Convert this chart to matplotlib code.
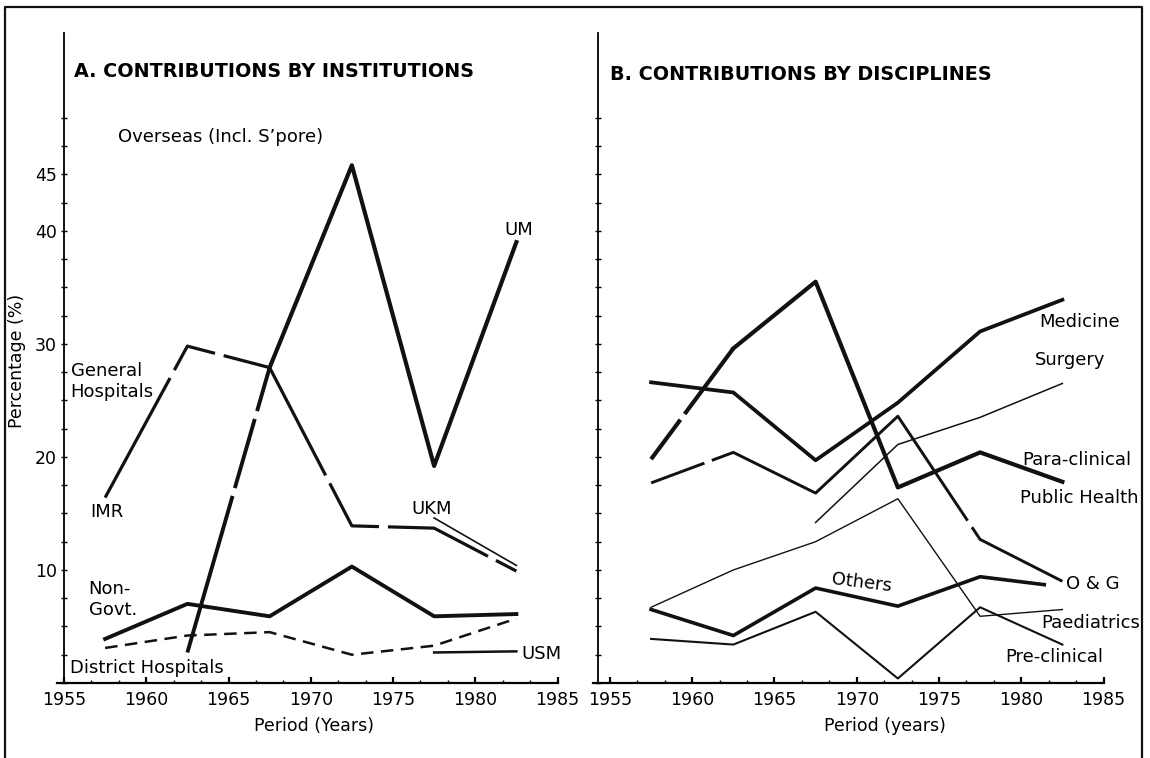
import numpy as np
import matplotlib
matplotlib.use("Agg")
import matplotlib.pyplot as plt
from matplotlib.lines import Line2D
from matplotlib.ticker import MultipleLocator

nan = np.nan

# periods (mid points of 5-year bands)
years = [1957.5, 1962.5, 1967.5, 1972.5, 1977.5, 1982.5]

# A. contributions by institutions (%)
um = [nan, 2.7, 27.9, 45.8, 19.2, 39.0]
gen_hosp = [16.4, 29.8, 27.9, 13.9, 13.7, 9.9]
ukm = [nan, nan, nan, nan, 14.6, 10.4]
non_govt = [3.9, 7.0, 5.9, 10.3, 5.9, 6.1]
district = [3.1, 4.2, 4.5, 2.5, 3.3, 5.7]
usm = [nan, nan, nan, nan, 2.7, 2.8]

# B. contributions by disciplines (%)
medicine = [26.6, 25.7, 19.7, 24.8, 31.1, 33.9]
para_clin = [19.8, 29.6, 35.5, 17.3, 20.4, 17.8]
og = [17.7, 20.4, 16.8, 23.6, 12.7, 9.0]
surgery = [nan, nan, 14.2, 21.1, 23.5, 26.5]
paed = [6.7, 10.0, 12.5, 16.3, 5.9, 6.5]
pre_clin = [3.9, 3.4, 6.3, 0.4, 6.7, 3.4]
others = [6.5, 4.2, 8.4, 6.8, 9.4, 8.7]
others_years = [1957.5, 1962.5, 1967.5, 1972.5, 1977.5, 1981.4]

xticks = [1955, 1960, 1965, 1970, 1975, 1980, 1985]
ylabels_a = [10, 20, 30, 40, 45]

K = '#111111'
W, H = 1150, 758

fig = plt.figure(figsize=(11.5, 7.58), dpi=100)
axA = fig.add_axes([56.6 / W, 75 / H, 500.9 / W, 650 / H])
axB = fig.add_axes([592.7 / W, 75 / H, 510.8 / W, 650 / H])
axA.set_xlim(1954.55, 1985)
axB.set_xlim(1953.95, 1985)
axA.spines['left'].set_position(('data', 1955))
axB.spines['left'].set_position(('data', 1954.3))

ytick_pos = np.arange(0, 50.1, 2.5)
for ax in (axA, axB):
    ax.set_ylim(0, 57.5)
    ax.spines['top'].set_visible(False)
    ax.spines['right'].set_visible(False)
    ax.spines['bottom'].set_linewidth(1.6)
    ax.spines['left'].set_linewidth(1.3)
    ax.set_xticks(xticks)
    ax.xaxis.set_minor_locator(MultipleLocator(5 / 3))
    ax.tick_params(axis='x', which='major', direction='in', length=4, width=1.6,
                   labelsize=12.5, pad=6)
    ax.tick_params(axis='x', which='minor', direction='in', length=2, width=1)
    ax.set_yticks(ytick_pos)
    ax.tick_params(axis='y', direction='inout', length=4, width=1, labelsize=12.5, pad=3)
    ax.patch.set_visible(False)

axA.set_yticklabels([str(int(v)) if v in ylabels_a else '' for v in ytick_pos])
axB.set_yticklabels(['' for v in ytick_pos])

# ---- panel A ----
axA.plot(years[1:3], um[1:3], color=K, lw=2.8, ls=(0, (41.9, 2.1, 18.5, 2.1, 40, 1)))
axA.plot(years[2:], um[2:], color=K, lw=3.0)
axA.plot(years, gen_hosp, color=K, lw=2.3,
         ls=(0, (42.6, 2.8, 17.5, 2.8, 52.9, 2.8, 23.5, 2.8, 33.5, 2.8, 100, 1)))
axA.plot(years, ukm, color=K, lw=1.2)
axA.plot(years, non_govt, color=K, lw=2.8)
axA.plot(years, district, color=K, lw=1.8, dashes=(5, 3))
axA.plot(years, usm, color=K, lw=1.8)

axA.text(1955.6, 54.1, 'A. CONTRIBUTIONS BY INSTITUTIONS', fontsize=13.8,
         fontweight='bold', va='center')
fs = 13
axA.text(1958.3, 48.3, "Overseas (Incl. S’pore)", fontsize=fs, va='center')
axA.text(1981.8, 40.1, 'UM', fontsize=fs, va='center')
axA.text(1955.4, 26.7, 'General\nHospitals', fontsize=fs, va='center')
axA.text(1956.6, 15.1, 'IMR', fontsize=fs, va='center')
axA.text(1976.1, 15.4, 'UKM', fontsize=fs, va='center')
axA.text(1956.5, 7.4, 'Non-\nGovt.', fontsize=fs, va='center')
axA.text(1955.35, 1.3, 'District Hospitals', fontsize=fs, va='center')
axA.text(1982.8, 2.6, 'USM', fontsize=fs, va='center')
axA.set_xlabel('Period (Years)', fontsize=12.5)
axA.xaxis.set_label_coords(0.514, -0.053)
axA.set_ylabel('Percentage (%)', fontsize=12.5)
axA.yaxis.set_label_coords(-0.062, 0.495)

# ---- panel B ----
axB.plot(years, medicine, color=K, lw=2.7)
axB.plot(years[:2], para_clin[:2], color=K, lw=3.0, ls=(0, (11.8, 1.7, 60, 1)))
axB.plot(years[1:], para_clin[1:], color=K, lw=3.0)
axB.plot(years, og, color=K, lw=2.1, ls=(0, (19.5, 2.7, 121, 2.7, 200, 1)))
axB.plot(years, surgery, color=K, lw=1.1)
axB.plot(years, paed, color=K, lw=1.0)
axB.plot(years, pre_clin, color=K, lw=1.5)
axB.plot(others_years, others, color=K, lw=2.6)

axB.text(1955.0, 53.8, 'B. CONTRIBUTIONS BY DISCIPLINES', fontsize=13.8,
         fontweight='bold', va='center')
axB.text(1981.1, 31.9, 'Medicine', fontsize=fs, va='center')
axB.text(1980.8, 28.6, 'Surgery', fontsize=fs, va='center')
axB.text(1980.05, 19.7, 'Para-clinical', fontsize=fs, va='center')
axB.text(1979.9, 16.4, 'Public Health', fontsize=fs, va='center')
axB.text(1982.7, 8.8, 'O & G', fontsize=fs, va='center')
axB.text(1981.2, 5.3, 'Paediatrics', fontsize=fs, va='center')
axB.text(1979.0, 2.3, 'Pre-clinical', fontsize=fs, va='center')
axB.text(1970.3, 8.9, 'Others', fontsize=fs, va='center', ha='center', rotation=-7)
axB.set_xlabel('Period (years)', fontsize=12.5)
axB.xaxis.set_label_coords(0.572, -0.053)

# outer frame of the figure
fig.add_artist(Line2D([5 / W, 5 / W, 1142 / W, 1142 / W], [0, 1 - 7 / H, 1 - 7 / H, 0],
                      color=K, lw=1.6, transform=fig.transFigure))

fig.savefig('out.png', dpi=100)
